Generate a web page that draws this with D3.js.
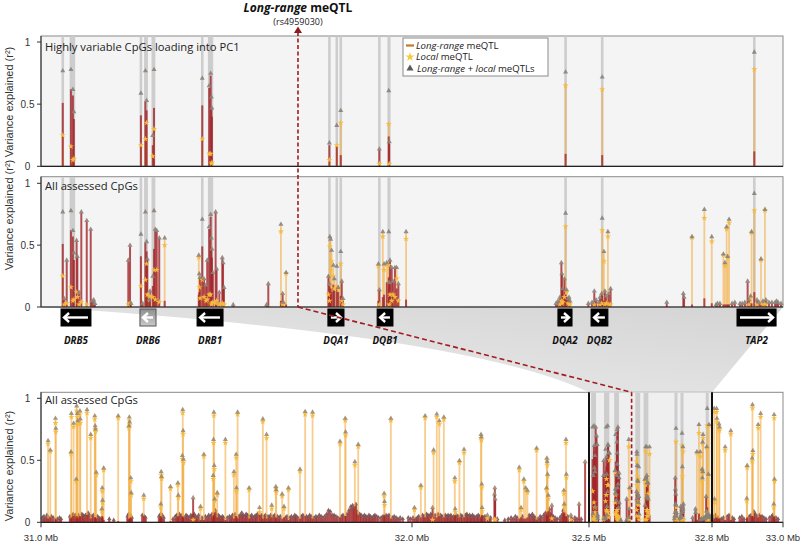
<!DOCTYPE html>
<html><head><meta charset="utf-8">
<script src="https://cdn.jsdelivr.net/npm/d3@7"></script>
<style>body{margin:0;background:#fff}svg{display:block}</style>
</head><body>
<svg id="c" width="800" height="544"></svg>
<script>
// ---------------- DATA ----------------
const yTicks = [0, 0.5, 1];
const yTickLabels = ["0", "0.5", "1"];
const wideTickMb = [31.0, 32.0, 32.5, 32.8, 33.0];
const wideTickLabels = ["31.0 Mb", "32.0 Mb", "32.5 Mb", "32.8 Mb", "33.0 Mb"];
const windowMb = [32.5, 32.8];
const leadSnpKb = 103.9;           // rs4959030 position inside the window (kb from 32.5 Mb)
const leadSnpName = "(rs4959030)";
const panelTitles = ["Highly variable CpGs loading into PC1", "All assessed CpGs", "All assessed CpGs"];
const legendItems = [["Long-range", " meQTL"], ["Local", " meQTL"], ["Long-range + local", " meQTLs"]];

const geneNames   = ["DRB5", "DRB6", "DRB1", "DQA1", "DQB1", "DQA2", "DQB2", "TAP2"];
const geneStartKb = [8.1, 40.0, 63.1, 116.0, 135.9, 209.0, 222.4, 281.4];
const geneEndKb   = [20.2, 46.5, 73.6, 122.5, 142.3, 214.7, 229.2, 297.2];
const geneStrand  = [-1, -1, -1, 1, -1, 1, -1, 1];
const genePseudo  = [0, 1, 0, 0, 0, 0, 0, 0];

// HLA window CpGs: [kb from 32.5 Mb, long-range r2, local r2, long-range+local r2, loads into PC1]
const hlaCpGs = [
[8.8,.51,.25,.76,1],[9.4,.05,.02,.06,0],[10.4,.36,.03,.37,0],[12.1,.62,.16,.77,1],[12.9,.57,.05,.61,1],
[13.3,.38,.06,.43,1],[14.4,.52,.12,.53,0],[14.7,.39,.08,.40,0],[15.4,.10,.02,.11,0],[16.3,.75,.04,.76,0],
[18.5,.69,.02,.69,0],[20.1,.62,.01,.62,0],[20.6,.03,.01,.04,0],[21.3,.04,.01,.05,0],[21.8,.02,.01,.02,0],
[35.3,.36,.02,.37,0],[36.0,.49,.03,.49,0],[36.4,.02,.01,.02,0],[40.4,.41,.17,.58,1],[41.1,.01,.01,.02,0],
[42.2,.52,.22,.76,1],[42.7,.45,.35,.52,1],[43.0,.36,.10,.38,0],[43.7,.04,.09,.05,0],[44.1,.10,.08,.12,0],
[45.2,.17,.08,.24,1],[45.7,.47,.30,.77,1],[46.2,.62,.06,.62,0],[46.8,.61,.30,.61,0],[47.8,.55,.04,.55,0],
[50.0,.05,.50,.55,0],[63.8,.10,.40,.41,0],[64.0,.12,.16,.26,0],[64.3,.20,.07,.23,0],[65.2,.49,.22,.70,1],
[65.9,.21,.08,.22,0],[66.7,.16,.05,.17,0],[67.2,.36,.06,.37,0],[68.0,.63,.10,.64,1],[68.6,.73,.10,.74,1],
[68.9,.46,.02,.55,1],[69.1,.40,.03,.46,1],[69.5,.26,.04,.27,0],[70.6,.76,.03,.76,0],[71.0,.29,.05,.30,0],
[72.1,.10,.02,.11,0],[73.3,.39,.03,.39,0],[73.6,.34,.02,.35,0],[74.0,.14,.02,.15,0],[77.7,.01,0,.01,0],
[91.2,.01,0,.01,0],[91.9,.18,.01,.18,0],[97.0,.05,.61,.66,0],[97.7,.09,.02,.10,0],[98.0,.01,.03,.03,0],
[99.1,.02,.27,.27,0],[116.2,.20,.10,.24,0],[116.6,.17,.05,.18,1],[116.8,.10,.49,.56,0],[117.1,.15,.30,.54,0],
[117.5,.12,.37,.45,0],[118.2,.18,.25,.33,0],[118.6,.13,.15,.22,0],[119.6,.16,.17,.32,1],[120.2,.12,.14,.15,0],
[121.2,.09,.35,.44,1],[121.6,.20,.05,.20,0],[122.1,.05,.02,.06,0],[136.4,.05,.33,.34,0],[136.8,.13,.02,.13,1],
[138.2,.08,.57,.60,0],[138.7,.10,.30,.34,0],[139.8,.20,.34,.35,0],[140.6,.24,.34,.60,1],[140.8,.18,.02,.19,1],
[141.1,.37,.10,.37,0],[141.8,.30,.05,.31,0],[142.3,.15,.10,.20,0],[143.1,.28,.08,.31,0],[143.8,.15,.23,.31,0],
[144.5,.17,.05,.18,0],[147.6,.06,.55,.60,0],[208.2,.02,.01,.02,0],[209.0,.04,.01,.04,0],[209.8,.06,.02,.07,0],
[210.4,.35,.05,.35,0],[210.6,.25,.03,.26,0],[210.9,.14,.04,.14,0],[211.6,.21,.08,.22,0],[212.1,.10,.65,.75,1],
[212.5,.08,.12,.13,0],[213.1,.05,.03,.06,0],[213.5,.06,.02,.07,0],[213.9,.03,.02,.04,0],[221.3,.02,0,.02,0],
[222.8,.03,.01,.03,0],[223.7,.12,.02,.12,0],[224.4,.04,.01,.05,0],[225.5,.03,.01,.03,0],[226.0,.06,.02,.07,0],
[226.7,.09,.03,.10,0],[226.9,.09,.62,.71,1],[227.6,.05,.37,.44,0],[228.0,.11,.02,.12,0],[228.6,.08,.03,.08,0],
[229.2,.04,.57,.60,0],[229.6,.10,.02,.10,0],[230.3,.14,.02,.14,0],[253.0,.02,0,.03,0],[259.7,.10,.01,.10,0],
[260.0,.06,.01,.07,0],[263.2,.02,.56,.56,0],[268.2,.07,.72,.78,0],[271.2,.03,.53,.56,0],[272.9,.01,.01,.01,0],
[273.5,.02,.01,.02,0],[274.5,.01,.01,.02,0],[275.9,.02,.42,.42,0],[276.5,.02,.33,.35,0],[277.2,.02,.63,.64,0],
[277.6,.02,.40,.40,0],[278.2,.02,.68,.70,0],[279.4,.01,.01,.02,0],[280.5,.03,.01,.03,0],[282.6,.02,.01,.02,0],
[283.5,.02,.01,.02,0],[284.6,.03,.01,.03,0],[285.7,.20,.01,.20,0],[286.2,.04,.02,.05,0],[286.9,.03,.08,.08,0],
[287.3,.03,.60,.60,0],[288.4,.12,.78,.91,1],[289.5,.05,.02,.05,0],[290.3,.03,.01,.03,0],[291.1,.02,.38,.38,0],
[291.9,.03,.02,.04,0],[292.7,.02,.78,.78,0],[293.1,.04,.02,.05,0],[294.3,.02,.01,.03,0],[295.5,.03,.01,.03,0],
[296.8,.02,.01,.03,0],[297.4,.04,.01,.04,0],[298.0,.03,.01,.03,0],[299.2,.02,.01,.02,0]
];

// Wider region CpGs with notable r2: [Mb, long-range r2, local r2, long-range+local r2]
const wideCpGs = [
[31.019,.03,.63,.65],[31.025,.04,.57,.575],[31.039,.03,.80,.83],[31.040,.02,.73,.75],
[31.081,.03,.55,.56],[31.082,.04,.85,.87],[31.088,.05,.77,.79],[31.095,.03,.33,.34],[31.096,.05,.90,.93],
[31.098,.04,.85,.87],[31.099,.03,.79,.81],[31.105,.05,.87,.89],[31.106,.04,.80,.825],[31.124,.06,.88,.90],
[31.134,.03,.68,.70],[31.145,.04,.83,.85],[31.146,.04,.75,.77],[31.147,.03,.73,.745],[31.149,.03,.38,.395],
[31.164,.03,.09,.10],[31.165,.05,.25,.27],[31.166,.04,.16,.17],[31.169,.02,.42,.43],[31.208,.01,.84,.85],
[31.237,.02,.76,.77],[31.238,.03,.82,.84],[31.239,.03,.78,.80],[31.242,.04,.33,.35],[31.243,.03,.22,.23],
[31.277,.05,.19,.21],[31.323,.05,.12,.14],[31.324,.04,.38,.40],[31.325,.03,.35,.36],[31.349,.01,.27,.28],
[31.369,.04,.30,.31],[31.370,.05,.20,.21],[31.381,.05,.51,.53],[31.382,.04,.88,.90],[31.383,.03,.71,.73],[31.384,.04,.48,.50],
[31.410,.19,.02,.19],[31.430,.02,.11,.12],[31.439,.02,.53,.54],
[31.464,.04,.35,.37],[31.465,.05,.64,.66],[31.466,.06,.86,.88],[31.467,.05,.43,.45],[31.468,.08,.17,.18],
[31.475,.04,.22,.23],[31.497,.02,.64,.66],[31.520,.03,.38,.40],[31.526,.05,.52,.54],[31.527,.04,.25,.27],[31.530,.03,.87,.88],
[31.561,.03,.26,.27],[31.589,.06,.08,.11],[31.598,.03,.81,.825],[31.608,.03,.68,.70],[31.622,.04,.11,.13],
[31.633,.04,.27,.28],[31.634,.03,.24,.255],[31.650,.03,.21,.22],[31.655,.04,.11,.12],[31.667,.02,.26,.27],
[31.698,.03,.41,.42],[31.712,.05,.87,.885],[31.732,.03,.86,.88],[31.806,.04,.63,.645],[31.820,.05,.82,.83],[31.821,.05,.70,.72],
[31.846,.13,.46,.48],[31.855,.06,.61,.62],[31.925,.06,.21,.225],[31.926,.05,.14,.16],[31.943,.03,.82,.83],
[32.007,.03,.10,.11],[32.025,.04,.28,.29],[32.037,.04,.84,.85],[32.058,.11,.02,.11],[32.061,.04,.56,.575],
[32.070,.04,.85,.865],[32.077,.05,.79,.81],[32.090,.04,.83,.84],[32.121,.05,.33,.35],[32.122,.06,.08,.10],
[32.134,.04,.48,.49],[32.147,.04,.56,.58],[32.195,.04,.68,.70],[32.196,.03,.66,.68],[32.197,.05,.28,.30],[32.198,.06,.09,.11],
[32.213,.05,.03,.05],[32.233,.22,.02,.22],[32.234,.27,.02,.27],[32.235,.18,.02,.18],
[32.303,.03,.42,.435],[32.308,.04,.10,.11],[32.316,.03,.33,.34],[32.321,.03,.26,.27],[32.326,.04,.24,.25],
[32.352,.02,.58,.59],[32.380,.08,.26,.27],[32.381,.05,.50,.51],[32.382,.06,.46,.48],[32.383,.05,.37,.38],
[32.385,.09,.19,.21],[32.395,.13,.03,.13],[32.429,.08,.23,.25],[32.430,.07,.13,.14],[32.435,.05,.64,.66],[32.436,.04,.36,.38],
[32.449,.04,.02,.05],[32.472,.14,.01,.14],[32.489,.48,.01,.48],
[32.806,.03,.89,.91],[32.807,.03,.16,.18],[32.813,.04,.89,.91],[32.814,.03,.81,.83],[32.820,.03,.76,.785],[32.821,.03,.74,.76],
[32.837,.02,.58,.60],[32.853,.02,.71,.73],[32.898,.03,.17,.185],[32.899,.04,.44,.45],
[32.913,.05,.49,.51],[32.914,.05,.92,.94],[32.915,.04,.55,.57],[32.930,.04,.76,.78],[32.937,.06,.85,.87],
[32.974,.05,.12,.14],[32.975,.04,.84,.86],[32.976,.03,.33,.34]
];

// Low-r2 background CpGs in the wide region: [Mb, r2]
const carpetCpGs = [
[31.004,.03],[31.008,.04],[31.012,.02],[31.016,.05],[31.021,.03],[31.028,.04],[31.033,.03],[31.044,.02],[31.050,.03],[31.054,.02],
[31.078,.04],[31.084,.05],[31.087,.06],[31.091,.04],[31.093,.05],[31.101,.05],[31.103,.04],[31.110,.06],[31.113,.05],[31.117,.04],
[31.120,.05],[31.127,.07],[31.131,.05],[31.137,.04],[31.141,.05],[31.152,.04],[31.156,.03],[31.160,.02],[31.184,.02],[31.196,.01],
[31.233,.04],[31.236,.06],[31.241,.05],[31.245,.03],[31.273,.05],[31.279,.04],[31.282,.03],[31.318,.04],[31.322,.06],[31.327,.05],
[31.331,.03],[31.356,.02],[31.362,.04],[31.366,.05],[31.373,.06],[31.377,.04],[31.380,.05],[31.386,.03],[31.391,.05],[31.395,.04],
[31.399,.03],[31.404,.05],[31.407,.04],[31.413,.06],[31.417,.04],[31.421,.03],[31.425,.05],[31.434,.03],[31.443,.04],[31.448,.03],
[31.452,.05],[31.457,.04],[31.461,.06],[31.470,.09],[31.472,.06],[31.478,.05],[31.481,.04],[31.485,.03],[31.489,.04],[31.492,.03],
[31.502,.03],[31.508,.04],[31.512,.03],[31.516,.05],[31.523,.06],[31.533,.04],[31.537,.05],[31.541,.07],[31.545,.05],[31.549,.04],
[31.553,.06],[31.557,.05],[31.564,.04],[31.568,.05],[31.572,.03],[31.576,.04],[31.580,.05],[31.584,.06],[31.592,.04],[31.595,.05],
[31.602,.04],[31.605,.05],[31.612,.04],[31.616,.03],[31.619,.05],[31.626,.04],[31.630,.05],[31.637,.04],[31.641,.03],[31.645,.04],
[31.659,.03],[31.663,.04],[31.671,.03],[31.675,.04],[31.680,.03],[31.684,.05],[31.688,.04],[31.692,.03],[31.702,.04],[31.706,.05],
[31.716,.04],[31.720,.03],[31.724,.05],[31.728,.04],[31.736,.03],[31.741,.04],[31.745,.03],[31.750,.05],[31.755,.04],[31.760,.03],
[31.765,.04],[31.770,.06],[31.775,.09],[31.780,.08],[31.785,.05],[31.790,.05],[31.795,.04],[31.800,.03],[31.810,.04],[31.814,.05],
[31.825,.06],[31.830,.09],[31.835,.12],[31.840,.13],[31.843,.10],[31.849,.14],[31.852,.08],[31.859,.06],[31.863,.05],[31.868,.04],
[31.872,.05],[31.876,.04],[31.880,.03],[31.884,.05],[31.888,.04],[31.892,.03],[31.896,.04],[31.900,.05],[31.905,.04],[31.910,.03],
[31.917,.03],[31.922,.04],[31.930,.05],[31.934,.04],[31.938,.05],[31.947,.03],[31.952,.04],[31.957,.03],[31.962,.02],[31.968,.03],
[31.975,.02],[31.990,.03],[31.996,.02],
[32.003,.03],[32.011,.02],[32.015,.03],[32.019,.04],[32.030,.05],[32.034,.04],[32.041,.06],[32.045,.05],[32.049,.04],[32.053,.06],
[32.065,.05],[32.074,.06],[32.081,.05],[32.085,.04],[32.094,.05],[32.098,.04],[32.102,.05],[32.106,.04],[32.110,.05],[32.114,.03],
[32.118,.04],[32.126,.05],[32.130,.04],[32.138,.05],[32.142,.04],[32.151,.05],[32.155,.06],[32.159,.04],[32.163,.05],[32.167,.04],
[32.171,.05],[32.175,.04],[32.179,.03],[32.183,.04],[32.187,.05],[32.191,.04],[32.202,.03],[32.206,.04],[32.218,.02],[32.222,.03],
[32.241,.02],[32.262,.01],[32.272,.02],[32.280,.03],[32.286,.02],[32.292,.04],[32.297,.03],[32.312,.04],[32.331,.05],[32.335,.04],
[32.340,.06],[32.344,.04],[32.348,.03],[32.356,.02],[32.362,.04],[32.366,.03],[32.372,.05],[32.377,.07],[32.388,.10],[32.391,.06],
[32.399,.04],[32.404,.03],[32.410,.02],[32.418,.03],[32.423,.05],[32.427,.09],[32.433,.06],[32.440,.04],[32.452,.02],[32.460,.03],
[32.466,.02],[32.478,.02],
[32.803,.04],[32.810,.05],[32.817,.03],[32.826,.02],[32.832,.03],[32.843,.04],[32.848,.05],[32.857,.03],[32.862,.02],[32.878,.03],
[32.884,.04],[32.890,.02],[32.905,.04],[32.910,.05],[32.918,.08],[32.922,.06],[32.927,.04],[32.933,.05],[32.941,.04],[32.946,.03],
[32.952,.02],[32.962,.03],[32.968,.04],[32.971,.05],[32.980,.03],[32.986,.02]
];

// ---------------- LAYOUT ----------------
const xL = 41, xR = 783;
const panels = [
  {top: 36,    bot: 166.3, one: 42,    title: 51,  ylab: 102},
  {top: 176.7, bot: 307,   one: 183.3, title: 190, ylab: 215},
  {top: 392.3, bot: 522.3, one: 398.3, title: 404, ylab: 466}
];
const C = {
  red: "#a3262b", orange: "#f3ae45", star: "#f6bb3c", tri: "#8a8278",
  pc1: "#cdcdcd", frame: "#8a8a8a", panelBg: "#f4f4f4", dash: "#a11c20"
};

const svg = d3.select("#c");
const defs = svg.append("defs");

const xH = d3.scaleLinear().domain(windowMb).range([xL, xR]);
const xW = d3.scaleLinear().domain(wideTickMb).range([xL, 412, 589, 712, xR]);
const ys = panels.map(p => d3.scaleLinear().domain([0, 1]).range([p.bot, p.one]));

const hla = hlaCpGs.map(d => ({mb: windowMb[0] + d[0] / 1000, lr: d[1], lc: d[2], cb: d[3], pc1: d[4]}));
const wide = wideCpGs.map(d => ({mb: d[0], lr: d[1], lc: d[2], cb: d[3], pc1: 0}));
const carpet = carpetCpGs.map(d => ({mb: d[0], lr: d[1], lc: 0, cb: d[1], pc1: 0}));

// ---------- wedge linking panel 2 to panel 3 ----------
const wg = defs.append("linearGradient").attr("id", "wedge").attr("x1", 1).attr("y1", 0).attr("x2", 0).attr("y2", 1);
wg.append("stop").attr("offset", 0).attr("stop-color", "#d4d4d4");
wg.append("stop").attr("offset", 1).attr("stop-color", "#ededed");
{
  const p = d3.path();
  const yT = panels[1].bot, yB = panels[2].top;
  p.moveTo(xH(windowMb[0]), yT);
  p.lineTo(xH(windowMb[1]), yT);
  p.lineTo(xW(windowMb[1]), yB);
  p.lineTo(xW(windowMb[0]), yB);
  p.quadraticCurveTo(470, 335, xH(windowMb[0]), yT);
  p.closePath();
  svg.append("path").attr("d", p.toString()).attr("fill", "url(#wedge)");
}

// ---------- panel backgrounds ----------
panels.forEach((p, i) => {
  svg.append("rect").attr("x", xL).attr("y", p.top).attr("width", xR - xL).attr("height", p.bot - p.top)
    .attr("fill", i < 2 ? C.panelBg : "#fff").attr("stroke", C.frame).attr("stroke-width", 1);
});
svg.append("rect").attr("x", xW(windowMb[0])).attr("y", panels[2].top)
  .attr("width", xW(windowMb[1]) - xW(windowMb[0])).attr("height", panels[2].bot - panels[2].top)
  .attr("fill", "#efefef");

// ---------- marks ----------
function stemTop(d, v, other) {
  return (d.pc1 || v < other) ? v : Math.max(v, d.cb);
}
function drawMarks(g, data, x, y, p, opt) {
  const o = Object.assign({pcw: 2.6, sw: 2, ow: 1.8, tri: 11, star: 12, triFill: C.tri}, opt || {});
  g.append("g").selectAll("line").data(data.filter(d => d.pc1)).join("line")
    .attr("x1", d => x(d.mb)).attr("x2", d => x(d.mb)).attr("y1", p.top + 0.5).attr("y2", p.bot)
    .attr("stroke", C.pc1).attr("stroke-width", o.pcw);
  g.append("g").selectAll("line").data(data.filter(d => d.lc > 0.005)).join("line")
    .attr("x1", d => x(d.mb)).attr("x2", d => x(d.mb)).attr("y1", y(0))
    .attr("y2", d => y(stemTop(d, d.lc, d.lr)))
    .attr("stroke", C.orange).attr("stroke-opacity", 0.6).attr("stroke-width", o.ow);
  g.append("g").selectAll("line").data(data.filter(d => d.lr > 0)).join("line")
    .attr("x1", d => x(d.mb)).attr("x2", d => x(d.mb)).attr("y1", y(0))
    .attr("y2", d => y(stemTop(d, d.lr, d.lc)))
    .attr("stroke", C.red).attr("stroke-opacity", 0.8).attr("stroke-width", o.sw);
  g.append("g").selectAll("path").data(data.filter(d => d.lc > 0.01)).join("path")
    .attr("d", d3.symbol(d3.symbolStar, o.star)())
    .attr("transform", d => `translate(${x(d.mb)},${y(d.lc)})`)
    .attr("fill", C.star).attr("opacity", 0.95);
  g.append("g").selectAll("path").data(data).join("path")
    .attr("d", d3.symbol(d3.symbolTriangle, o.tri)())
    .attr("transform", d => `translate(${x(d.mb)},${y(d.cb) - 1})`)
    .attr("fill", o.triFill).attr("opacity", 0.9);
}

drawMarks(svg.append("g"), hla.filter(d => d.pc1), xH, ys[0], panels[0]);
drawMarks(svg.append("g"), hla, xH, ys[1], panels[1]);
drawMarks(svg.append("g"), carpet, xW, ys[2], panels[2], {tri: 8, sw: 2.3, triFill: "#7a5050"});
drawMarks(svg.append("g"), wide, xW, ys[2], panels[2], {triFill: "#9a8a70"});
drawMarks(svg.append("g"), hla, xW, ys[2], panels[2], {pcw: 3});

// highlight borders in panel 3
[windowMb[0], windowMb[1]].forEach(m => {
  svg.append("line").attr("x1", xW(m)).attr("x2", xW(m)).attr("y1", panels[2].top).attr("y2", panels[2].bot)
    .attr("stroke", "#111").attr("stroke-width", 2);
});

// ---------- axes ----------
panels.forEach((p, i) => {
  const y = ys[i];
  svg.append("line").attr("x1", xL).attr("x2", xL).attr("y1", p.top).attr("y2", p.bot).attr("stroke", "#333").attr("stroke-width", 1.1);
  svg.append("line").attr("x1", xL).attr("x2", xR).attr("y1", p.bot).attr("y2", p.bot).attr("stroke", "#222").attr("stroke-width", 1.2);
  yTicks.forEach((t, j) => {
    svg.append("line").attr("x1", xL - 4).attr("x2", xL).attr("y1", y(t)).attr("y2", y(t)).attr("stroke", "#333");
    svg.append("text").attr("x", 27.5).attr("y", y(t)).attr("dy", "0.35em").attr("text-anchor", "middle")
      .attr("font-family", "Liberation Sans, Arial, sans-serif").attr("font-size", 10).attr("fill", "#333")
      .text(yTickLabels[j]);
  });
  svg.append("text").attr("transform", `translate(13,${p.ylab}) rotate(-90)`).attr("text-anchor", "middle")
    .attr("font-family", "Liberation Sans, Arial, sans-serif").attr("font-size", 11).attr("fill", "#333")
    .text("Variance explained (r²)");
  svg.append("text").attr("x", 45).attr("y", p.title).attr("font-family", "Open Sans, sans-serif")
    .attr("font-size", 11.2).attr("fill", "#222").text(panelTitles[i]);
});
// panel 3 x axis
wideTickMb.forEach((m, i) => {
  svg.append("line").attr("x1", xW(m)).attr("x2", xW(m)).attr("y1", panels[2].bot).attr("y2", panels[2].bot + 5)
    .attr("stroke", "#333");
  svg.append("text").attr("x", xW(m)).attr("y", 541).attr("text-anchor", "middle")
    .attr("font-family", "Liberation Sans, Arial, sans-serif").attr("font-size", 9.5).attr("fill", "#333")
    .text(wideTickLabels[i]);
});

// ---------- genes ----------
const dg = defs.append("linearGradient").attr("id", "pseudo").attr("x1", 0).attr("y1", 0).attr("x2", 0).attr("y2", 1);
dg.append("stop").attr("offset", 0).attr("stop-color", "#8f8f8f");
dg.append("stop").attr("offset", 1).attr("stop-color", "#c9c9c9");
const gTop = 309, gH = 17;
geneNames.forEach((name, i) => {
  const x1 = xH(windowMb[0] + geneStartKb[i] / 1000), x2 = xH(windowMb[0] + geneEndKb[i] / 1000);
  svg.append("rect").attr("x", x1).attr("y", gTop).attr("width", x2 - x1).attr("height", gH)
    .attr("fill", genePseudo[i] ? "url(#pseudo)" : "#000").attr("stroke", genePseudo[i] ? "#555" : "#000").attr("stroke-width", 1);
  const yc = gTop + gH / 2, a = x1 + 3, b = x2 - 3;
  const tip = geneStrand[i] < 0 ? a : b, dir = geneStrand[i] < 0 ? 1 : -1;
  svg.append("line").attr("x1", a).attr("x2", b).attr("y1", yc).attr("y2", yc).attr("stroke", "#fff").attr("stroke-width", 2.4);
  svg.append("path").attr("d", `M${tip + dir * 5},${yc - 4.5} L${tip},${yc} L${tip + dir * 5},${yc + 4.5}`)
    .attr("fill", "none").attr("stroke", "#fff").attr("stroke-width", 2.4).attr("stroke-linejoin", "miter");
  svg.append("text").attr("x", (x1 + x2) / 2).attr("y", 344).attr("text-anchor", "middle")
    .attr("font-family", "Open Sans, sans-serif").attr("font-size", 9.8).attr("font-weight", "bold").attr("font-style", "italic")
    .attr("fill", "#111").text(name);
});

// ---------- long-range meQTL marker ----------
{
  const sx = xH(windowMb[0] + leadSnpKb / 1000);
  const sx3 = xW(windowMb[0] + leadSnpKb / 1000);
  svg.append("line").attr("x1", sx).attr("x2", sx).attr("y1", 32).attr("y2", panels[1].bot)
    .attr("stroke", C.dash).attr("stroke-width", 1.6).attr("stroke-dasharray", "4,2.5");
  svg.append("line").attr("x1", sx).attr("x2", sx3).attr("y1", panels[1].bot).attr("y2", panels[2].top)
    .attr("stroke", C.dash).attr("stroke-width", 1.6).attr("stroke-dasharray", "5,3");
  svg.append("line").attr("x1", sx3).attr("x2", sx3).attr("y1", panels[2].top).attr("y2", panels[2].bot)
    .attr("stroke", C.dash).attr("stroke-width", 1.6).attr("stroke-dasharray", "4,2.5");
  svg.append("path").attr("d", `M${sx},26.5 L${sx - 4},33 L${sx + 4},33 Z`).attr("fill", "#8e1a1a");
  const t = svg.append("text").attr("x", sx).attr("y", 12).attr("text-anchor", "middle")
    .attr("font-family", "Open Sans, sans-serif").attr("font-size", 12).attr("font-weight", "bold").attr("fill", "#111");
  t.append("tspan").attr("font-style", "italic").text(legendItems[0][0]);
  t.append("tspan").text(" meQTL");
  svg.append("text").attr("x", sx).attr("y", 25).attr("text-anchor", "middle")
    .attr("font-family", "Open Sans, sans-serif").attr("font-size", 9).attr("fill", "#222").text(leadSnpName);
}

// ---------- legend ----------
{
  const lx = 403, ly = 38;
  svg.append("rect").attr("x", lx).attr("y", ly).attr("width", 145).attr("height", 38)
    .attr("fill", "#fff").attr("stroke", "#8a8a8a");
  const rows = [45.5, 57, 68.5];
  svg.append("line").attr("x1", lx + 3).attr("x2", lx + 11).attr("y1", rows[0]).attr("y2", rows[0])
    .attr("stroke", "#c47a2c").attr("stroke-width", 2.2);
  svg.append("path").attr("d", d3.symbol(d3.symbolStar, 26)()).attr("transform", `translate(${lx + 7},${rows[1]})`).attr("fill", "#f5c940");
  svg.append("path").attr("d", d3.symbol(d3.symbolTriangle, 22)()).attr("transform", `translate(${lx + 7},${rows[2]})`).attr("fill", "#5a5a5a");
  legendItems.forEach((it, i) => {
    const t = svg.append("text").attr("x", lx + 13 + (i === 2 ? 1 : 0)).attr("y", rows[i]).attr("dy", "0.35em")
      .attr("font-family", "Open Sans, sans-serif").attr("font-size", 9.6).attr("fill", "#222");
    t.append("tspan").attr("font-style", "italic").text(it[0]);
    t.append("tspan").text(it[1]);
  });
}
</script>
</body></html>
